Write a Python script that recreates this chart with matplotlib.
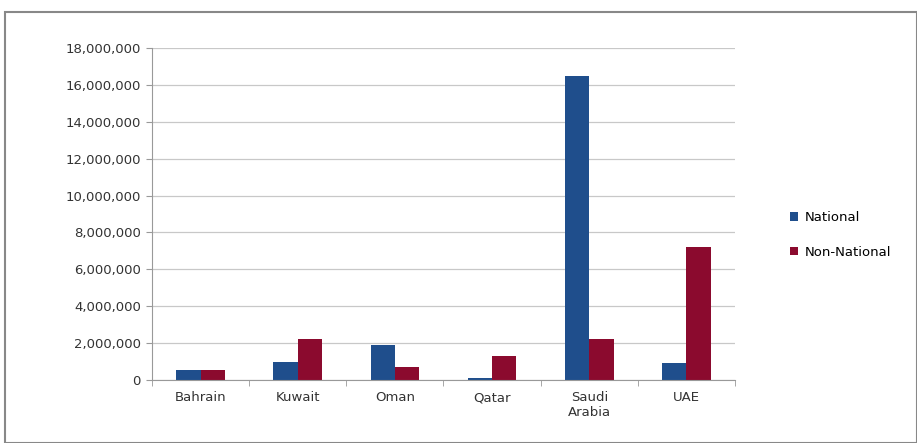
import matplotlib.pyplot as plt
import numpy as np
from matplotlib.ticker import FuncFormatter
from matplotlib.patches import Rectangle

pays = ['Bahrain', 'Kuwait', 'Oman', 'Qatar', 'Saudi\nArabia', 'UAE']
national = [540000, 980000, 1900000, 120000, 16500000, 920000]
non_national = [560000, 2220000, 720000, 1300000, 2200000, 7200000]

fig = plt.figure(figsize=(9.17, 4.43), dpi=100)
ax = fig.add_axes([152/917, 1-380/443, (735-152)/917, (380-48)/443])

x = np.arange(len(pays))
w = 0.25
ax.bar(x - w/2, national, w, color='#1F4E8C', label='National')
ax.bar(x + w/2, non_national, w, color='#8B0A2E', label='Non-National')

ax.set_xlim(-0.5, len(pays) - 0.5)
ax.set_ylim(0, 18000000)
ax.set_yticks(np.arange(0, 18000001, 2000000))
ax.yaxis.set_major_formatter(FuncFormatter(lambda v, p: '{:,.0f}'.format(v)))
ax.set_xticks(x)
ax.set_xticklabels(pays)
ax.set_xticks(np.arange(-0.5, len(pays), 1), minor=True)
ax.tick_params(axis='x', which='major', length=0, pad=8, labelsize=9.5, colors='#333333')
ax.tick_params(axis='x', which='minor', length=4, color='#999999')
ax.tick_params(axis='y', length=4, color='#999999', labelsize=9.5, labelcolor='#333333', pad=4)
ax.grid(axis='y', color='#c8c8c8', linewidth=0.9)
ax.set_axisbelow(True)
for s in ['top', 'right']:
    ax.spines[s].set_visible(False)
ax.spines['left'].set_color('#999999')
ax.spines['bottom'].set_color('#999999')

fig.legend(loc='center left', bbox_to_anchor=(778/917, 1 - 235/443), frameon=False, fontsize=9.5,
           handlelength=0.6, handleheight=0.6, handletextpad=0.5, labelspacing=1.65)

# cadre extérieur
fig.patches.append(Rectangle((5/917, 0), 1 - 5/917, 1 - 12/443, transform=fig.transFigure,
                             fill=False, edgecolor='#888888', linewidth=1.5))

plt.savefig('out.png')
